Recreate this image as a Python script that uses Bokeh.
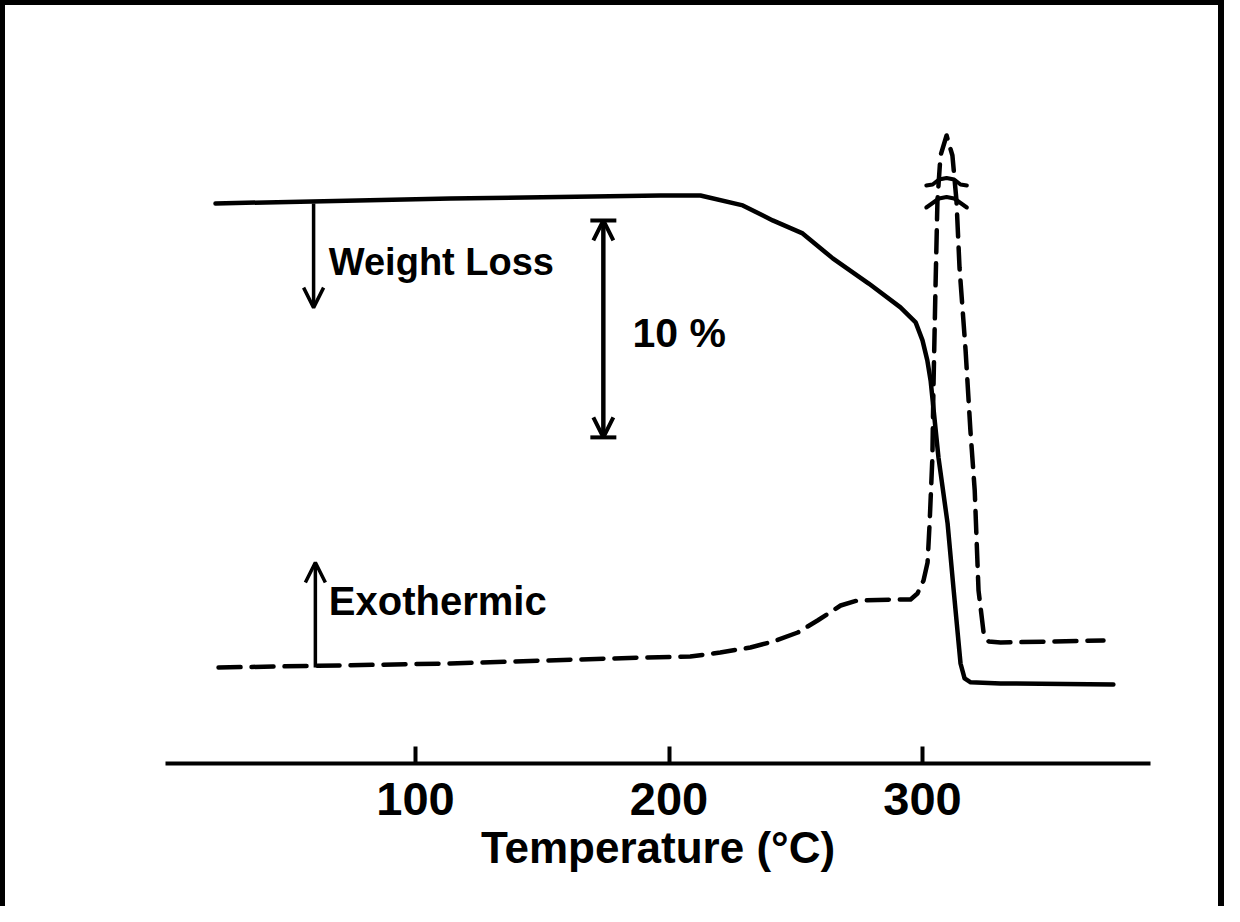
from bokeh.plotting import figure
from bokeh.models import Range1d, LinearAxis, FixedTicker, Label, Arrow, OpenHead, TeeHead
from bokeh.embed import file_html
from bokeh.resources import INLINE

# ---------------- data ----------------
# TG curve (solid): temperature (deg C) vs. relative weight (%)
tg_temp = [21.1, 113.8, 196.6, 212.4, 229.1, 240.9, 252.7, 264.6, 278.8, 291.3,
           297.3, 300.0, 301.9, 303.2, 306.3, 309.9, 312.3, 315.0, 316.6, 319.0,
           330.8, 375.3]
tg_weight = [100.0, 100.23, 100.37, 100.37, 99.91, 99.22, 98.62, 97.47, 96.31, 95.21,
             94.52, 93.69, 92.77, 91.84, 88.29, 85.25, 82.17, 78.80, 78.11, 77.93,
             77.88, 77.83]

# DTA curve (dashed): temperature (deg C) vs. signal (arbitrary units, exo up)
dta_temp = [22.3, 113.8, 189.9, 208.4, 220.2, 232.1, 241.1, 250.8, 258.6, 267.7,
            274.3, 288.5, 295.3, 298.0, 300.4, 302.0, 302.8, 303.9, 304.3, 305.1,
            305.9, 307.1, 309.5, 311.8, 313.4, 314.6, 317.0, 318.9, 320.6, 322.1,
            324.1, 326.1, 330.8, 371.4]
dta_signal = [0.0, 0.4, 1.0, 1.1, 1.5, 2.0, 2.6, 3.5, 4.7, 6.2,
              6.7, 6.8, 6.8, 7.4, 8.7, 10.5, 14.4, 21.0, 27.7, 37.7,
              46.7, 51.2, 53.2, 51.2, 46.7, 40.0, 31.7, 23.7, 17.7, 7.7,
              3.5, 2.6, 2.5, 2.7]

x_ticks = [100, 200, 300]
x_title = "Temperature (°C)"

# break marks on the off-scale exotherm (offsets from peak centre)
peak_center = 309.5
break_dx = [-8.0, -5.5, -3.0, 0.0, 3.0, 5.5, 8.0]
break1_y = 48.2
break1_dy = [0.0, 0.1, 0.6, 0.75, 0.6, 0.1, 0.0]
break2_y = 46.6
break2_dy = [-0.6, -0.15, 0.3, 0.45, 0.3, -0.15, -0.6]

# ---------------- figure ----------------
# page content starts 5px in (CSS border); frame spans ref x 165..1150, y 5..763
W, H = 1224, 906
OFF = 5
p = figure(width=W, height=H, output_backend="svg", toolbar_location=None,
           x_range=Range1d(1.38, 389.94), y_range=Range1d(-9.6, (667 - OFF) / 10.0),
           x_axis_location=None, y_axis_location=None,
           min_border_left=165 - OFF, min_border_right=W - (1150 - OFF), min_border_top=0,
           min_border_bottom=H - (763 - OFF))
p.extra_y_ranges = {"tg": Range1d(74.19, 100 + (203 - OFF) / 21.7)}
p.grid.visible = False
p.outline_line_color = None
p.background_fill_color = "white"
p.border_fill_color = "white"
p.styles = {"border-top": "5px solid black", "border-left": "5px solid black",
            "border-right": "6px solid black"}

FONT = "Liberation Sans"

xaxis = LinearAxis(ticker=FixedTicker(ticks=x_ticks), axis_label=x_title)
xaxis.axis_line_width = 4
xaxis.axis_line_color = "black"
xaxis.major_tick_line_width = 4
xaxis.major_tick_line_color = "black"
xaxis.major_tick_in = 17
xaxis.major_tick_out = 0
xaxis.minor_tick_line_color = None
xaxis.major_label_text_font = FONT
xaxis.major_label_text_font_style = "bold"
xaxis.major_label_text_font_size = "47px"
xaxis.major_label_text_color = "black"
xaxis.major_label_standoff = 19
xaxis.axis_label_text_font = FONT
xaxis.axis_label_text_font_style = "bold"
xaxis.axis_label_text_font_size = "44px"
xaxis.axis_label_text_color = "black"
xaxis.axis_label_standoff = 5
p.add_layout(xaxis, "below")

# curves
p.line(tg_temp, tg_weight, y_range_name="tg", line_color="black", line_width=4.5,
       line_join="round", line_cap="round")
p.line(dta_temp, dta_signal, line_color="black", line_width=4.5, line_dash="22 11",
       line_join="round", line_cap="round")

# break marks
p.line([peak_center + d for d in break_dx], [break1_y + d for d in break1_dy],
       line_color="black", line_width=4, line_cap="round")
p.line([peak_center + d for d in break_dx], [break2_y + d for d in break2_dy],
       line_color="black", line_width=4, line_cap="round")

# arrows
p.add_layout(Arrow(end=OpenHead(size=20, line_width=3.5), x_start=59.8, y_start=100.0,
                   x_end=59.8, y_end=95.2, y_range_name="tg", line_width=3.5))
p.add_layout(Arrow(end=OpenHead(size=20, line_width=3.5), x_start=60.5, y_start=0.0,
                   x_end=60.5, y_end=10.5, line_width=3.5))
p.add_layout(Arrow(start=OpenHead(size=20, line_width=4), end=OpenHead(size=20, line_width=4),
                   x_start=174.1, y_start=89.22, x_end=174.1, y_end=99.22,
                   y_range_name="tg", line_width=4))
p.add_layout(Arrow(start=TeeHead(size=26, line_width=4), end=TeeHead(size=26, line_width=4),
                   x_start=174.1, y_start=89.22, x_end=174.1, y_end=99.22,
                   y_range_name="tg", line_width=4))

# labels
def lab(x, y, text, size, rng="default"):
    return Label(x=x, y=y, text=text, y_range_name=rng, text_font=FONT,
                 text_font_style="bold", text_font_size=size, text_color="black",
                 text_baseline="alphabetic", text_align="left")

p.add_layout(lab(65.8, 97.28, "Weight Loss", "38px", "tg"))
p.add_layout(lab(185.6, 94.05, "10 %", "41px", "tg"))
p.add_layout(lab(65.8, 6.7, "Exothermic", "40px"))

open("out.html", "w").write(file_html(p, INLINE))
